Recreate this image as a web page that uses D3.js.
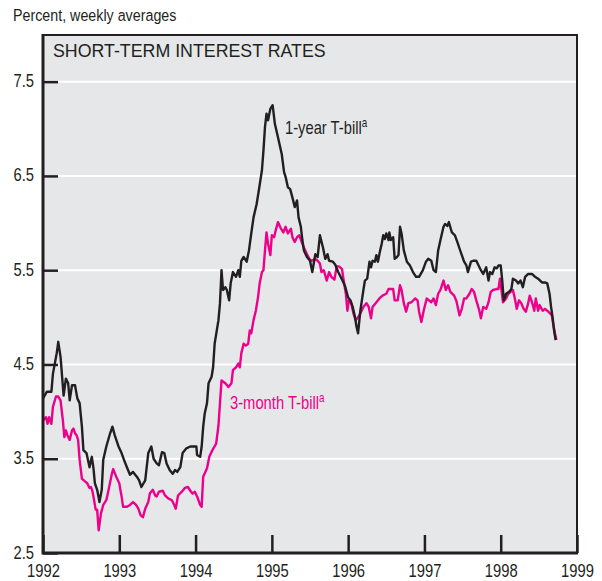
<!DOCTYPE html>
<html>
<head>
<meta charset="utf-8">
<script src="https://cdn.jsdelivr.net/npm/d3@7"></script>
<style>
  body { margin: 0; background: #fff; }
  svg text { font-family: "Liberation Sans", Arial, sans-serif; fill: #231f20; }
</style>
</head>
<body>
<svg id="chart" width="602" height="581"></svg>
<script>
// Weekly averages: [decimal year, percent]
const oneYearBill = [
  [1992.00, 4.14], [1992.05, 4.21], [1992.11, 4.21], [1992.13, 4.40], [1992.18, 4.62], [1992.20, 4.74],
  [1992.23, 4.58], [1992.27, 4.17], [1992.30, 4.35], [1992.33, 4.30], [1992.35, 4.12], [1992.38, 4.28],
  [1992.42, 4.28], [1992.45, 4.14], [1992.48, 4.09], [1992.51, 3.84], [1992.53, 3.59], [1992.57, 3.56],
  [1992.61, 3.41], [1992.64, 3.52], [1992.66, 3.41], [1992.68, 3.24], [1992.71, 3.17], [1992.74, 3.04],
  [1992.77, 3.17], [1992.79, 3.49], [1992.83, 3.63], [1992.88, 3.77], [1992.91, 3.84], [1992.94, 3.75],
  [1992.99, 3.63], [1993.03, 3.56], [1993.07, 3.47], [1993.10, 3.41], [1993.14, 3.33], [1993.18, 3.36],
  [1993.23, 3.31], [1993.26, 3.27], [1993.29, 3.20], [1993.34, 3.27], [1993.38, 3.56], [1993.42, 3.63],
  [1993.45, 3.50], [1993.49, 3.45], [1993.52, 3.43], [1993.56, 3.57], [1993.59, 3.56], [1993.62, 3.45],
  [1993.66, 3.38], [1993.70, 3.34], [1993.73, 3.38], [1993.76, 3.36], [1993.80, 3.41], [1993.83, 3.56],
  [1993.88, 3.61], [1993.93, 3.63], [1993.97, 3.63], [1994.01, 3.63], [1994.02, 3.54], [1994.06, 3.52],
  [1994.08, 3.63], [1994.10, 3.84], [1994.12, 3.98], [1994.15, 4.09], [1994.17, 4.30], [1994.21, 4.37],
  [1994.23, 4.47], [1994.25, 4.72], [1994.30, 4.97], [1994.32, 5.15], [1994.34, 5.50], [1994.36, 5.29],
  [1994.39, 5.32], [1994.41, 5.29], [1994.44, 5.18], [1994.46, 5.36], [1994.49, 5.48], [1994.53, 5.43],
  [1994.56, 5.50], [1994.58, 5.43], [1994.60, 5.60], [1994.63, 5.64], [1994.67, 5.59], [1994.70, 5.71],
  [1994.73, 5.89], [1994.76, 6.06], [1994.80, 6.20], [1994.83, 6.35], [1994.87, 6.56], [1994.89, 6.77],
  [1994.91, 7.02], [1994.93, 7.16], [1994.95, 7.09], [1994.98, 7.21], [1995.01, 7.25], [1995.04, 7.05],
  [1995.08, 6.91], [1995.13, 6.73], [1995.16, 6.54], [1995.18, 6.49], [1995.21, 6.38], [1995.24, 6.36],
  [1995.27, 6.27], [1995.30, 6.17], [1995.33, 6.24], [1995.35, 6.06], [1995.38, 5.96], [1995.40, 5.82],
  [1995.42, 5.71], [1995.46, 5.64], [1995.50, 5.60], [1995.53, 5.48], [1995.57, 5.67], [1995.60, 5.64],
  [1995.63, 5.87], [1995.67, 5.74], [1995.70, 5.62], [1995.73, 5.67], [1995.75, 5.60], [1995.80, 5.59],
  [1995.83, 5.56], [1995.87, 5.48], [1995.92, 5.40], [1995.96, 5.33], [1996.00, 5.21], [1996.03, 5.18],
  [1996.06, 5.11], [1996.09, 5.00], [1996.11, 4.90], [1996.13, 4.83], [1996.16, 5.07], [1996.18, 5.18],
  [1996.20, 5.29], [1996.22, 5.39], [1996.25, 5.41], [1996.28, 5.59], [1996.30, 5.53], [1996.32, 5.60],
  [1996.35, 5.59], [1996.37, 5.66], [1996.39, 5.59], [1996.42, 5.71], [1996.44, 5.78], [1996.46, 5.87],
  [1996.48, 5.83], [1996.50, 5.89], [1996.53, 5.82], [1996.54, 5.90], [1996.56, 5.82], [1996.59, 5.85],
  [1996.61, 5.62], [1996.64, 5.64], [1996.66, 5.66], [1996.68, 5.96], [1996.70, 5.89], [1996.73, 5.71],
  [1996.77, 5.59], [1996.81, 5.55], [1996.85, 5.48], [1996.89, 5.43], [1996.93, 5.43], [1996.98, 5.50],
  [1997.02, 5.59], [1997.05, 5.62], [1997.09, 5.60], [1997.12, 5.50], [1997.15, 5.48], [1997.18, 5.71],
  [1997.21, 5.82], [1997.25, 5.96], [1997.27, 5.99], [1997.30, 5.97], [1997.32, 6.01], [1997.36, 5.90],
  [1997.40, 5.87], [1997.44, 5.78], [1997.46, 5.73], [1997.49, 5.66], [1997.52, 5.59], [1997.55, 5.55],
  [1997.57, 5.48], [1997.61, 5.59], [1997.64, 5.60], [1997.68, 5.60], [1997.71, 5.55], [1997.74, 5.50],
  [1997.77, 5.46], [1997.81, 5.53], [1997.84, 5.39], [1997.86, 5.48], [1997.89, 5.46], [1997.92, 5.53],
  [1997.95, 5.52], [1997.97, 5.55], [1998.00, 5.55], [1998.02, 5.39], [1998.04, 5.18], [1998.07, 5.25],
  [1998.11, 5.27], [1998.14, 5.30], [1998.16, 5.41], [1998.20, 5.39], [1998.23, 5.36], [1998.26, 5.39],
  [1998.29, 5.32], [1998.32, 5.43], [1998.36, 5.46], [1998.41, 5.46], [1998.45, 5.43], [1998.49, 5.41],
  [1998.54, 5.37], [1998.58, 5.37], [1998.61, 5.36], [1998.64, 5.25], [1998.66, 5.11], [1998.68, 5.00],
  [1998.70, 4.86], [1998.72, 4.76]
];

const threeMonthBill = [
  [1992.00, 3.91], [1992.04, 3.94], [1992.06, 3.87], [1992.08, 3.94], [1992.11, 3.87], [1992.13, 4.05],
  [1992.17, 4.16], [1992.20, 4.16], [1992.23, 4.12], [1992.26, 3.91], [1992.28, 3.73], [1992.30, 3.80],
  [1992.32, 3.75], [1992.35, 3.70], [1992.38, 3.80], [1992.40, 3.82], [1992.42, 3.77], [1992.44, 3.75],
  [1992.46, 3.70], [1992.48, 3.49], [1992.51, 3.29], [1992.55, 3.26], [1992.58, 3.24], [1992.61, 3.19],
  [1992.63, 3.20], [1992.65, 3.15], [1992.67, 3.06], [1992.69, 2.96], [1992.71, 2.96], [1992.73, 2.74],
  [1992.76, 2.92], [1992.79, 3.01], [1992.83, 3.06], [1992.86, 3.17], [1992.90, 3.33], [1992.92, 3.39],
  [1992.96, 3.31], [1993.00, 3.24], [1993.03, 3.10], [1993.05, 2.99], [1993.10, 2.99], [1993.14, 3.01],
  [1993.18, 3.04], [1993.22, 3.01], [1993.25, 2.97], [1993.28, 2.90], [1993.31, 2.88], [1993.34, 2.97],
  [1993.38, 3.04], [1993.40, 3.13], [1993.44, 3.17], [1993.47, 3.11], [1993.49, 3.10], [1993.52, 3.15],
  [1993.57, 3.16], [1993.60, 3.11], [1993.64, 3.08], [1993.69, 3.06], [1993.72, 3.01], [1993.74, 2.97],
  [1993.77, 3.11], [1993.82, 3.15], [1993.86, 3.19], [1993.90, 3.20], [1993.94, 3.15], [1993.96, 3.13],
  [1993.99, 3.15], [1994.02, 3.10], [1994.06, 3.01], [1994.08, 2.99], [1994.10, 3.31], [1994.15, 3.40],
  [1994.18, 3.52], [1994.22, 3.59], [1994.27, 3.66], [1994.30, 3.85], [1994.32, 4.09], [1994.34, 4.33],
  [1994.39, 4.30], [1994.43, 4.26], [1994.47, 4.30], [1994.49, 4.44], [1994.53, 4.47], [1994.56, 4.51],
  [1994.58, 4.47], [1994.60, 4.62], [1994.63, 4.72], [1994.66, 4.70], [1994.69, 4.72], [1994.71, 4.86],
  [1994.73, 4.83], [1994.76, 4.97], [1994.79, 5.07], [1994.82, 5.22], [1994.84, 5.36], [1994.87, 5.48],
  [1994.89, 5.50], [1994.91, 5.71], [1994.93, 5.90], [1994.95, 5.78], [1994.98, 5.66], [1995.00, 5.87],
  [1995.03, 5.85], [1995.05, 5.92], [1995.08, 6.01], [1995.12, 5.94], [1995.15, 5.90], [1995.18, 5.96],
  [1995.21, 5.89], [1995.25, 5.94], [1995.27, 5.85], [1995.30, 5.80], [1995.33, 5.85], [1995.36, 5.87],
  [1995.39, 5.80], [1995.42, 5.74], [1995.46, 5.67], [1995.49, 5.62], [1995.52, 5.60], [1995.57, 5.62],
  [1995.60, 5.60], [1995.63, 5.57], [1995.65, 5.48], [1995.68, 5.50], [1995.72, 5.39], [1995.75, 5.48],
  [1995.78, 5.43], [1995.82, 5.40], [1995.85, 5.54], [1995.88, 5.54], [1995.92, 5.51], [1995.94, 5.40],
  [1995.97, 5.25], [1995.99, 5.07], [1996.01, 5.18], [1996.04, 5.15], [1996.07, 5.04], [1996.10, 4.97],
  [1996.13, 5.00], [1996.16, 5.04], [1996.20, 5.11], [1996.24, 5.15], [1996.27, 5.11], [1996.30, 4.99],
  [1996.32, 5.11], [1996.36, 5.15], [1996.41, 5.20], [1996.45, 5.23], [1996.50, 5.25], [1996.53, 5.30],
  [1996.56, 5.30], [1996.59, 5.30], [1996.61, 5.18], [1996.65, 5.18], [1996.68, 5.34], [1996.70, 5.29],
  [1996.73, 5.15], [1996.76, 5.06], [1996.79, 5.15], [1996.83, 5.16], [1996.88, 5.20], [1996.91, 5.18],
  [1996.93, 5.06], [1996.96, 4.95], [1996.99, 5.07], [1997.03, 5.20], [1997.06, 5.18], [1997.09, 5.16],
  [1997.12, 5.20], [1997.15, 5.13], [1997.18, 5.25], [1997.21, 5.29], [1997.25, 5.39], [1997.28, 5.29],
  [1997.31, 5.34], [1997.34, 5.27], [1997.39, 5.23], [1997.42, 5.17], [1997.46, 5.02], [1997.49, 5.09],
  [1997.52, 5.20], [1997.55, 5.20], [1997.59, 5.25], [1997.62, 5.30], [1997.65, 5.27], [1997.68, 5.18],
  [1997.72, 5.07], [1997.74, 4.99], [1997.77, 5.11], [1997.81, 5.09], [1997.84, 5.16], [1997.87, 5.27],
  [1997.90, 5.29], [1997.94, 5.30], [1997.97, 5.30], [1997.99, 5.41], [1998.01, 5.29], [1998.03, 5.16],
  [1998.07, 5.20], [1998.10, 5.25], [1998.13, 5.27], [1998.16, 5.29], [1998.19, 5.18], [1998.21, 5.09],
  [1998.24, 5.18], [1998.27, 5.15], [1998.30, 5.09], [1998.33, 5.06], [1998.36, 5.15], [1998.38, 5.23],
  [1998.41, 5.16], [1998.44, 5.07], [1998.46, 5.20], [1998.49, 5.07], [1998.51, 5.13], [1998.55, 5.07],
  [1998.58, 5.09], [1998.61, 5.07], [1998.65, 5.04], [1998.67, 5.02], [1998.69, 4.92], [1998.71, 4.83],
  [1998.73, 4.76]
];

const yearTicks = [1992, 1993, 1994, 1995, 1996, 1997, 1998, 1999];
const rateTicks = [2.5, 3.5, 4.5, 5.5, 6.5, 7.5];
const gridTicks = [3.5, 4.5, 5.5, 6.5, 7.5];

const black = "#231f20";
const magenta = "#ec008c";
const narrow = 0.82; // reference uses a condensed face

const svg = d3.select("#chart");
const m = { left: 43, right: 577, top: 35, bottom: 553 };

const x = d3.scaleLinear().domain([1992, 1999]).range([m.left, m.right]);
const y = d3.scaleLinear().domain([2.5, 8.0]).range([m.bottom, m.top - 0.5]);

// panel
svg.append("rect")
  .attr("x", m.left).attr("y", m.top)
  .attr("width", m.right - m.left).attr("height", m.bottom - m.top)
  .attr("fill", "#e6e7e9");

svg.append("g")
  .selectAll("line")
  .data(gridTicks)
  .join("line")
  .attr("x1", m.left).attr("x2", m.right)
  .attr("y1", (d) => y(d)).attr("y2", (d) => y(d))
  .attr("stroke", "#fff")
  .attr("stroke-width", 2);

// series
const line = d3.line()
  .x((d) => x(d[0]))
  .y((d) => y(d[1]));

svg.append("path")
  .datum(threeMonthBill)
  .attr("d", line)
  .attr("fill", "none")
  .attr("stroke", magenta)
  .attr("stroke-width", 2.4)
  .attr("stroke-linejoin", "round");

svg.append("path")
  .datum(oneYearBill)
  .attr("d", line)
  .attr("fill", "none")
  .attr("stroke", black)
  .attr("stroke-width", 2.4)
  .attr("stroke-linejoin", "round");

// axes
const xAxis = svg.append("g")
  .attr("transform", `translate(0,${m.bottom})`)
  .call(d3.axisBottom(x).tickValues(yearTicks).tickFormat(d3.format("d")).tickSize(-18));
xAxis.select(".domain").remove();
xAxis.selectAll(".tick line").attr("stroke", black).attr("stroke-width", 2.5);
xAxis.selectAll(".tick text")
  .attr("y", 24).attr("dy", null)
  .attr("transform", `scale(${narrow},1)`)
  .attr("font-size", 18).attr("fill", black);

const yAxis = svg.append("g")
  .attr("transform", `translate(${m.left},0)`)
  .call(d3.axisLeft(y).tickValues(rateTicks).tickFormat(d3.format(".1f")).tickSize(-15));
yAxis.select(".domain").remove();
yAxis.selectAll(".tick line").attr("stroke", black).attr("stroke-width", 2.5);
yAxis.selectAll(".tick text")
  .attr("x", -9 / narrow).attr("dy", 5)
  .attr("transform", `scale(${narrow},1)`)
  .attr("font-size", 18).attr("fill", black);

// frame
svg.append("path")
  .attr("d", `M${m.left},${m.top}H${m.right}V${m.bottom}`)
  .attr("fill", "none").attr("stroke", black).attr("stroke-width", 2);
svg.append("path")
  .attr("d", `M${m.left},${m.top - 1}V${m.bottom}H${m.right + 1}`)
  .attr("fill", "none").attr("stroke", black).attr("stroke-width", 3);

// labels
function label(px, py, k) {
  return svg.append("text").attr("transform", `translate(${px},${py}) scale(${k},1)`);
}

label(13, 21, 0.84)
  .attr("font-size", 17)
  .text("Percent, weekly averages");

label(53, 57, 1)
  .attr("font-size", 17.8)
  .text("SHORT-TERM INTEREST RATES");

const oneLabel = label(285, 134, narrow)
  .attr("font-size", 18)
  .attr("fill", black);
oneLabel.append("tspan").text("1-year T-bill");
oneLabel.append("tspan").attr("dy", -7).attr("font-size", 12).text("a");

const threeLabel = label(230, 409, narrow)
  .attr("font-size", 18)
  .style("fill", magenta);
threeLabel.append("tspan").text("3-month T-bill");
threeLabel.append("tspan").attr("dy", -7).attr("font-size", 12).text("a");
</script>
</body>
</html>
